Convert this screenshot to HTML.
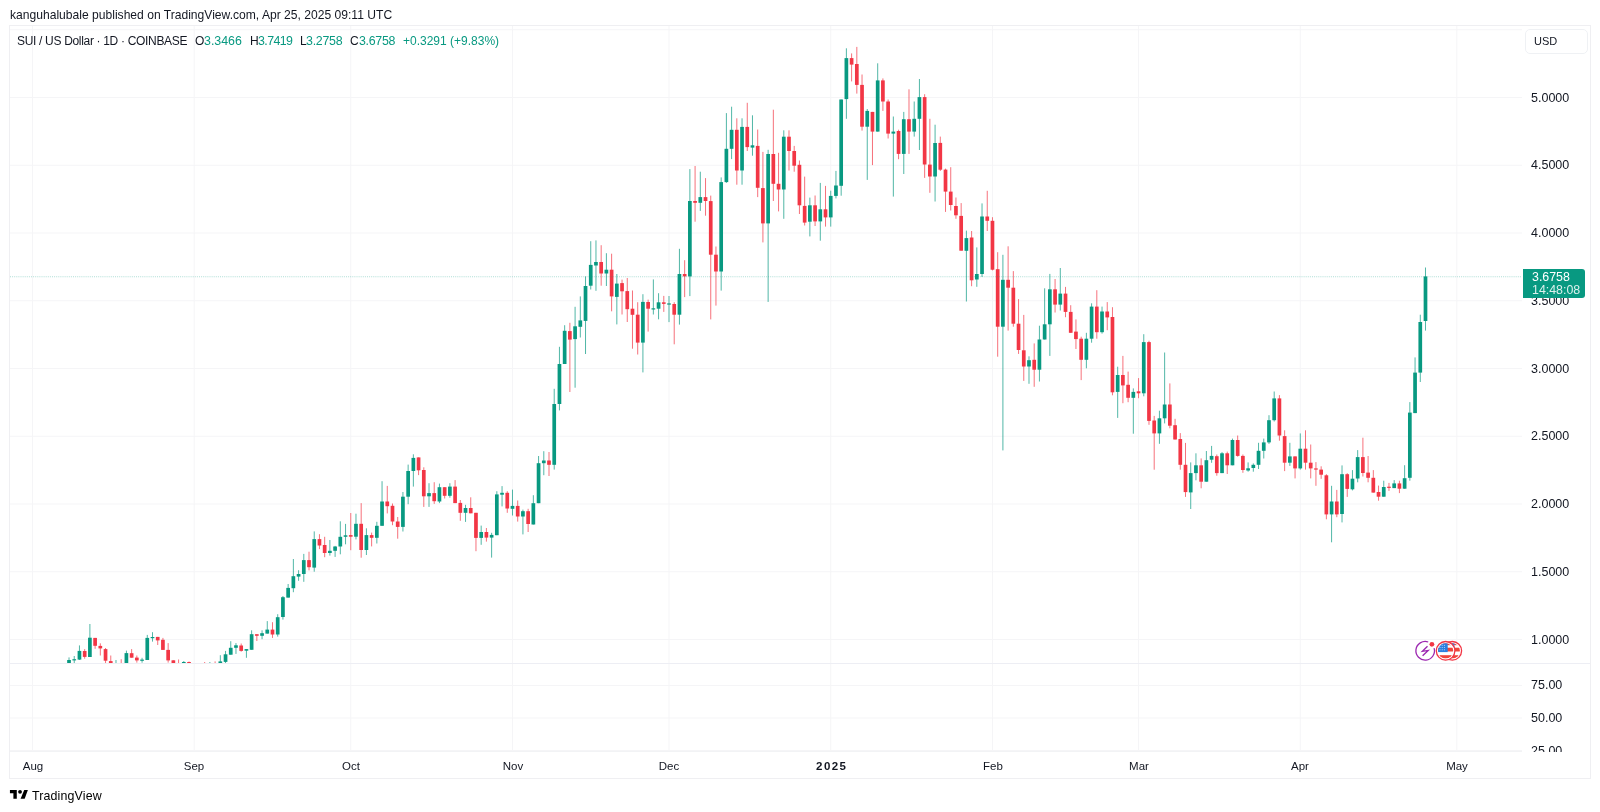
<!DOCTYPE html>
<html><head><meta charset="utf-8">
<style>
html,body{margin:0;padding:0;background:#fff;}
body{width:1600px;height:812px;position:relative;overflow:hidden;font-family:"Liberation Sans",sans-serif;color:#131722;}
.t{position:absolute;white-space:nowrap;line-height:1;will-change:transform;}
.box{position:absolute;left:9px;top:25px;width:1582px;height:754px;border:1px solid #EFEFF2;box-sizing:border-box;}
.pl{position:absolute;left:1531px;font-size:12.5px;line-height:1;will-change:transform;white-space:nowrap;}
.ml{position:absolute;font-size:11.5px;line-height:1;top:760.5px;will-change:transform;text-align:center;width:60px;}
.g{color:#089981;}
</style></head><body>
<div class="t" style="left:9.7px;top:8.9px;font-size:12.1px;">kanguhalubale published on TradingView.com, Apr 25, 2025 09:11 UTC</div>
<div class="box"></div>
<svg width="1600" height="812" style="position:absolute;left:0;top:0">
<defs><clipPath id="mainclip"><rect x="10" y="26" width="1512" height="637"/></clipPath></defs>
<line x1="10" x2="1522" y1="29.75" y2="29.75" stroke="#F5F5F7" stroke-width="1"/><line x1="10" x2="1522" y1="97.5" y2="97.5" stroke="#F5F5F7" stroke-width="1"/><line x1="10" x2="1522" y1="165.25" y2="165.25" stroke="#F5F5F7" stroke-width="1"/><line x1="10" x2="1522" y1="233.0" y2="233.0" stroke="#F5F5F7" stroke-width="1"/><line x1="10" x2="1522" y1="300.75" y2="300.75" stroke="#F5F5F7" stroke-width="1"/><line x1="10" x2="1522" y1="368.5" y2="368.5" stroke="#F5F5F7" stroke-width="1"/><line x1="10" x2="1522" y1="436.25" y2="436.25" stroke="#F5F5F7" stroke-width="1"/><line x1="10" x2="1522" y1="504.0" y2="504.0" stroke="#F5F5F7" stroke-width="1"/><line x1="10" x2="1522" y1="571.75" y2="571.75" stroke="#F5F5F7" stroke-width="1"/><line x1="10" x2="1522" y1="639.5" y2="639.5" stroke="#F5F5F7" stroke-width="1"/><line x1="10" x2="1522" y1="685.5" y2="685.5" stroke="#F5F5F7" stroke-width="1"/><line x1="10" x2="1522" y1="718" y2="718" stroke="#F5F5F7" stroke-width="1"/><line x1="10" x2="1522" y1="750.5" y2="750.5" stroke="#F5F5F7" stroke-width="1"/><line x1="32.5" x2="32.5" y1="26" y2="751" stroke="#F5F5F7" stroke-width="1"/><line x1="194.2332" x2="194.2332" y1="26" y2="751" stroke="#F5F5F7" stroke-width="1"/><line x1="350.74920000000003" x2="350.74920000000003" y1="26" y2="751" stroke="#F5F5F7" stroke-width="1"/><line x1="512.4824" x2="512.4824" y1="26" y2="751" stroke="#F5F5F7" stroke-width="1"/><line x1="668.9984000000001" x2="668.9984000000001" y1="26" y2="751" stroke="#F5F5F7" stroke-width="1"/><line x1="830.7316" x2="830.7316" y1="26" y2="751" stroke="#F5F5F7" stroke-width="1"/><line x1="992.4648" x2="992.4648" y1="26" y2="751" stroke="#F5F5F7" stroke-width="1"/><line x1="1138.5464" x2="1138.5464" y1="26" y2="751" stroke="#F5F5F7" stroke-width="1"/><line x1="1300.2796" x2="1300.2796" y1="26" y2="751" stroke="#F5F5F7" stroke-width="1"/><line x1="1456.7956" x2="1456.7956" y1="26" y2="751" stroke="#F5F5F7" stroke-width="1"/><line x1="10" x2="1590" y1="663.5" y2="663.5" stroke="#EDEEF4" stroke-width="1"/><line x1="10" x2="1522" y1="751.5" y2="751.5" stroke="#F2F3F5" stroke-width="1"/><g clip-path="url(#mainclip)"><rect x="68.52" y="657.4" width="1" height="10.6" fill="#089981" fill-opacity="0.7"/><rect x="67.17" y="660.0" width="3.7" height="8.0" fill="#089981"/><rect x="73.74" y="656.0" width="1" height="12.0" fill="#089981" fill-opacity="0.7"/><rect x="72.39" y="659.2" width="3.7" height="1.2" fill="#089981"/><rect x="78.95" y="645.4" width="1" height="14.6" fill="#089981" fill-opacity="0.7"/><rect x="77.60" y="650.9" width="3.7" height="8.7" fill="#089981"/><rect x="84.17" y="649.1" width="1" height="9.6" fill="#F23645" fill-opacity="0.7"/><rect x="82.82" y="651.0" width="3.7" height="5.9" fill="#F23645"/><rect x="89.39" y="624.0" width="1" height="33.0" fill="#089981" fill-opacity="0.7"/><rect x="88.04" y="637.7" width="3.7" height="19.3" fill="#089981"/><rect x="94.61" y="637.9" width="1" height="10.9" fill="#F23645" fill-opacity="0.7"/><rect x="93.26" y="637.9" width="3.7" height="7.9" fill="#F23645"/><rect x="99.82" y="643.3" width="1" height="12.2" fill="#F23645" fill-opacity="0.7"/><rect x="98.47" y="645.9" width="3.7" height="2.5" fill="#F23645"/><rect x="105.04" y="648.0" width="1" height="15.0" fill="#F23645" fill-opacity="0.7"/><rect x="103.69" y="649.1" width="3.7" height="11.6" fill="#F23645"/><rect x="110.26" y="655.5" width="1" height="12.5" fill="#F23645" fill-opacity="0.7"/><rect x="108.91" y="661.1" width="3.7" height="6.9" fill="#F23645"/><rect x="115.48" y="660.0" width="1" height="8.0" fill="#089981" fill-opacity="0.7"/><rect x="114.13" y="664.0" width="3.7" height="2.0" fill="#089981"/><rect x="120.69" y="659.2" width="1" height="8.8" fill="#F23645" fill-opacity="0.7"/><rect x="119.34" y="664.0" width="3.7" height="2.0" fill="#F23645"/><rect x="125.91" y="650.6" width="1" height="17.4" fill="#089981" fill-opacity="0.7"/><rect x="124.56" y="653.1" width="3.7" height="14.9" fill="#089981"/><rect x="131.13" y="649.1" width="1" height="8.6" fill="#F23645" fill-opacity="0.7"/><rect x="129.78" y="653.2" width="3.7" height="4.5" fill="#F23645"/><rect x="136.34" y="655.5" width="1" height="7.1" fill="#F23645" fill-opacity="0.7"/><rect x="134.99" y="657.6" width="3.7" height="2.8" fill="#F23645"/><rect x="141.56" y="657.8" width="1" height="4.9" fill="#089981" fill-opacity="0.7"/><rect x="140.21" y="659.6" width="3.7" height="1.2" fill="#089981"/><rect x="146.78" y="634.9" width="1" height="25.1" fill="#089981" fill-opacity="0.7"/><rect x="145.43" y="637.9" width="3.7" height="22.1" fill="#089981"/><rect x="152.00" y="632.2" width="1" height="9.4" fill="#089981" fill-opacity="0.7"/><rect x="150.65" y="637.0" width="3.7" height="1.2" fill="#089981"/><rect x="157.21" y="636.9" width="1" height="8.1" fill="#F23645" fill-opacity="0.7"/><rect x="155.86" y="636.9" width="3.7" height="3.5" fill="#F23645"/><rect x="162.43" y="637.9" width="1" height="12.0" fill="#F23645" fill-opacity="0.7"/><rect x="161.08" y="639.8" width="3.7" height="10.1" fill="#F23645"/><rect x="167.65" y="643.1" width="1" height="19.5" fill="#F23645" fill-opacity="0.7"/><rect x="166.30" y="649.9" width="3.7" height="10.5" fill="#F23645"/><rect x="172.86" y="660.3" width="1" height="7.7" fill="#F23645" fill-opacity="0.7"/><rect x="171.51" y="660.3" width="3.7" height="7.7" fill="#F23645"/><rect x="178.08" y="659.5" width="1" height="8.5" fill="#F23645" fill-opacity="0.7"/><rect x="176.73" y="664.0" width="3.7" height="2.0" fill="#F23645"/><rect x="183.30" y="661.0" width="1" height="7.0" fill="#089981" fill-opacity="0.7"/><rect x="181.95" y="662.0" width="3.7" height="6.0" fill="#089981"/><rect x="188.52" y="661.5" width="1" height="6.5" fill="#F23645" fill-opacity="0.7"/><rect x="187.17" y="662.0" width="3.7" height="6.0" fill="#F23645"/><rect x="204.17" y="662.0" width="1" height="6.0" fill="#F23645" fill-opacity="0.7"/><rect x="202.82" y="664.0" width="3.7" height="2.0" fill="#F23645"/><rect x="209.38" y="662.0" width="1" height="6.0" fill="#089981" fill-opacity="0.7"/><rect x="208.03" y="664.0" width="3.7" height="2.0" fill="#089981"/><rect x="214.60" y="661.4" width="1" height="6.6" fill="#F23645" fill-opacity="0.7"/><rect x="213.25" y="664.0" width="3.7" height="2.0" fill="#F23645"/><rect x="219.82" y="655.2" width="1" height="12.8" fill="#089981" fill-opacity="0.7"/><rect x="218.47" y="661.4" width="3.7" height="6.6" fill="#089981"/><rect x="225.04" y="650.9" width="1" height="12.1" fill="#089981" fill-opacity="0.7"/><rect x="223.69" y="654.3" width="3.7" height="7.6" fill="#089981"/><rect x="230.25" y="641.2" width="1" height="13.5" fill="#089981" fill-opacity="0.7"/><rect x="228.90" y="647.8" width="3.7" height="6.9" fill="#089981"/><rect x="235.47" y="643.1" width="1" height="10.8" fill="#089981" fill-opacity="0.7"/><rect x="234.12" y="645.3" width="3.7" height="2.5" fill="#089981"/><rect x="240.69" y="643.5" width="1" height="8.2" fill="#F23645" fill-opacity="0.7"/><rect x="239.34" y="645.5" width="3.7" height="5.4" fill="#F23645"/><rect x="245.91" y="649.1" width="1" height="8.7" fill="#089981" fill-opacity="0.7"/><rect x="244.56" y="649.1" width="3.7" height="1.6" fill="#089981"/><rect x="251.12" y="630.3" width="1" height="19.5" fill="#089981" fill-opacity="0.7"/><rect x="249.77" y="634.2" width="3.7" height="15.6" fill="#089981"/><rect x="256.34" y="634.2" width="1" height="6.8" fill="#F23645" fill-opacity="0.7"/><rect x="254.99" y="634.2" width="3.7" height="1.6" fill="#F23645"/><rect x="261.56" y="630.3" width="1" height="8.9" fill="#089981" fill-opacity="0.7"/><rect x="260.21" y="633.2" width="3.7" height="2.6" fill="#089981"/><rect x="266.77" y="621.1" width="1" height="12.5" fill="#089981" fill-opacity="0.7"/><rect x="265.42" y="629.6" width="3.7" height="4.0" fill="#089981"/><rect x="271.99" y="622.2" width="1" height="15.7" fill="#F23645" fill-opacity="0.7"/><rect x="270.64" y="629.6" width="3.7" height="4.9" fill="#F23645"/><rect x="277.21" y="614.2" width="1" height="22.4" fill="#089981" fill-opacity="0.7"/><rect x="275.86" y="617.2" width="3.7" height="17.3" fill="#089981"/><rect x="282.43" y="596.0" width="1" height="23.6" fill="#089981" fill-opacity="0.7"/><rect x="281.08" y="597.2" width="3.7" height="19.8" fill="#089981"/><rect x="287.64" y="584.0" width="1" height="13.6" fill="#089981" fill-opacity="0.7"/><rect x="286.29" y="587.9" width="3.7" height="9.7" fill="#089981"/><rect x="292.86" y="559.0" width="1" height="33.2" fill="#089981" fill-opacity="0.7"/><rect x="291.51" y="576.2" width="3.7" height="12.0" fill="#089981"/><rect x="298.08" y="570.2" width="1" height="10.6" fill="#089981" fill-opacity="0.7"/><rect x="296.73" y="574.0" width="3.7" height="2.6" fill="#089981"/><rect x="303.29" y="553.9" width="1" height="27.9" fill="#089981" fill-opacity="0.7"/><rect x="301.94" y="560.1" width="3.7" height="13.9" fill="#089981"/><rect x="308.51" y="551.7" width="1" height="18.7" fill="#F23645" fill-opacity="0.7"/><rect x="307.16" y="560.1" width="3.7" height="7.1" fill="#F23645"/><rect x="313.73" y="531.4" width="1" height="40.3" fill="#089981" fill-opacity="0.7"/><rect x="312.38" y="539.1" width="3.7" height="28.5" fill="#089981"/><rect x="318.95" y="534.2" width="1" height="14.9" fill="#F23645" fill-opacity="0.7"/><rect x="317.60" y="539.1" width="3.7" height="6.4" fill="#F23645"/><rect x="324.16" y="536.8" width="1" height="20.4" fill="#F23645" fill-opacity="0.7"/><rect x="322.81" y="545.0" width="3.7" height="8.0" fill="#F23645"/><rect x="329.38" y="540.0" width="1" height="15.6" fill="#089981" fill-opacity="0.7"/><rect x="328.03" y="550.8" width="3.7" height="2.2" fill="#089981"/><rect x="334.60" y="545.9" width="1" height="11.0" fill="#089981" fill-opacity="0.7"/><rect x="333.25" y="546.5" width="3.7" height="4.3" fill="#089981"/><rect x="339.81" y="521.3" width="1" height="33.0" fill="#089981" fill-opacity="0.7"/><rect x="338.46" y="536.8" width="3.7" height="9.7" fill="#089981"/><rect x="345.03" y="523.9" width="1" height="20.4" fill="#089981" fill-opacity="0.7"/><rect x="343.68" y="535.3" width="3.7" height="1.5" fill="#089981"/><rect x="350.25" y="513.0" width="1" height="37.2" fill="#F23645" fill-opacity="0.7"/><rect x="348.90" y="535.1" width="3.7" height="1.6" fill="#F23645"/><rect x="355.47" y="513.7" width="1" height="25.7" fill="#089981" fill-opacity="0.7"/><rect x="354.12" y="523.8" width="3.7" height="12.9" fill="#089981"/><rect x="360.68" y="503.1" width="1" height="54.6" fill="#F23645" fill-opacity="0.7"/><rect x="359.33" y="523.8" width="3.7" height="26.2" fill="#F23645"/><rect x="365.90" y="528.3" width="1" height="26.7" fill="#089981" fill-opacity="0.7"/><rect x="364.55" y="535.1" width="3.7" height="14.9" fill="#089981"/><rect x="371.12" y="532.6" width="1" height="13.8" fill="#F23645" fill-opacity="0.7"/><rect x="369.77" y="535.1" width="3.7" height="2.7" fill="#F23645"/><rect x="376.34" y="521.8" width="1" height="21.7" fill="#089981" fill-opacity="0.7"/><rect x="374.99" y="525.8" width="3.7" height="12.0" fill="#089981"/><rect x="381.55" y="481.2" width="1" height="44.6" fill="#089981" fill-opacity="0.7"/><rect x="380.20" y="501.5" width="3.7" height="24.3" fill="#089981"/><rect x="386.77" y="485.9" width="1" height="27.5" fill="#F23645" fill-opacity="0.7"/><rect x="385.42" y="501.5" width="3.7" height="4.7" fill="#F23645"/><rect x="391.99" y="503.5" width="1" height="21.7" fill="#F23645" fill-opacity="0.7"/><rect x="390.64" y="505.8" width="3.7" height="15.7" fill="#F23645"/><rect x="397.20" y="517.0" width="1" height="21.7" fill="#F23645" fill-opacity="0.7"/><rect x="395.85" y="521.5" width="3.7" height="5.4" fill="#F23645"/><rect x="402.42" y="492.0" width="1" height="39.5" fill="#089981" fill-opacity="0.7"/><rect x="401.07" y="496.7" width="3.7" height="30.2" fill="#089981"/><rect x="407.64" y="464.6" width="1" height="39.6" fill="#089981" fill-opacity="0.7"/><rect x="406.29" y="471.0" width="3.7" height="25.7" fill="#089981"/><rect x="412.86" y="454.3" width="1" height="32.3" fill="#089981" fill-opacity="0.7"/><rect x="411.51" y="457.9" width="3.7" height="13.1" fill="#089981"/><rect x="418.07" y="457.4" width="1" height="17.7" fill="#F23645" fill-opacity="0.7"/><rect x="416.72" y="457.4" width="3.7" height="12.9" fill="#F23645"/><rect x="423.29" y="467.3" width="1" height="39.6" fill="#F23645" fill-opacity="0.7"/><rect x="421.94" y="470.0" width="3.7" height="26.3" fill="#F23645"/><rect x="428.51" y="483.2" width="1" height="23.7" fill="#089981" fill-opacity="0.7"/><rect x="427.16" y="493.1" width="3.7" height="3.2" fill="#089981"/><rect x="433.72" y="482.2" width="1" height="21.7" fill="#F23645" fill-opacity="0.7"/><rect x="432.37" y="493.1" width="3.7" height="8.1" fill="#F23645"/><rect x="438.94" y="483.6" width="1" height="19.5" fill="#089981" fill-opacity="0.7"/><rect x="437.59" y="487.2" width="3.7" height="14.3" fill="#089981"/><rect x="444.16" y="487.2" width="1" height="11.3" fill="#F23645" fill-opacity="0.7"/><rect x="442.81" y="487.2" width="3.7" height="8.6" fill="#F23645"/><rect x="449.38" y="483.2" width="1" height="14.5" fill="#089981" fill-opacity="0.7"/><rect x="448.03" y="486.6" width="3.7" height="9.2" fill="#089981"/><rect x="454.59" y="480.1" width="1" height="23.0" fill="#F23645" fill-opacity="0.7"/><rect x="453.24" y="486.6" width="3.7" height="16.5" fill="#F23645"/><rect x="459.81" y="500.0" width="1" height="20.8" fill="#F23645" fill-opacity="0.7"/><rect x="458.46" y="502.9" width="3.7" height="9.9" fill="#F23645"/><rect x="465.03" y="504.8" width="1" height="17.1" fill="#089981" fill-opacity="0.7"/><rect x="463.68" y="508.0" width="3.7" height="4.8" fill="#089981"/><rect x="470.24" y="497.3" width="1" height="16.0" fill="#F23645" fill-opacity="0.7"/><rect x="468.89" y="508.0" width="3.7" height="5.3" fill="#F23645"/><rect x="475.46" y="512.8" width="1" height="38.4" fill="#F23645" fill-opacity="0.7"/><rect x="474.11" y="512.8" width="3.7" height="25.1" fill="#F23645"/><rect x="480.68" y="525.6" width="1" height="19.2" fill="#089981" fill-opacity="0.7"/><rect x="479.33" y="532.0" width="3.7" height="5.9" fill="#089981"/><rect x="485.90" y="528.0" width="1" height="13.6" fill="#F23645" fill-opacity="0.7"/><rect x="484.55" y="532.0" width="3.7" height="5.6" fill="#F23645"/><rect x="491.11" y="532.8" width="1" height="24.8" fill="#089981" fill-opacity="0.7"/><rect x="489.76" y="534.9" width="3.7" height="2.7" fill="#089981"/><rect x="496.33" y="491.2" width="1" height="44.0" fill="#089981" fill-opacity="0.7"/><rect x="494.98" y="494.4" width="3.7" height="40.8" fill="#089981"/><rect x="501.55" y="486.1" width="1" height="20.3" fill="#089981" fill-opacity="0.7"/><rect x="500.20" y="492.8" width="3.7" height="1.9" fill="#089981"/><rect x="506.77" y="491.2" width="1" height="21.6" fill="#F23645" fill-opacity="0.7"/><rect x="505.42" y="492.8" width="3.7" height="15.7" fill="#F23645"/><rect x="511.98" y="489.6" width="1" height="25.9" fill="#089981" fill-opacity="0.7"/><rect x="510.63" y="505.9" width="3.7" height="2.9" fill="#089981"/><rect x="517.20" y="500.5" width="1" height="21.1" fill="#F23645" fill-opacity="0.7"/><rect x="515.85" y="505.9" width="3.7" height="10.6" fill="#F23645"/><rect x="522.42" y="509.6" width="1" height="24.8" fill="#089981" fill-opacity="0.7"/><rect x="521.07" y="511.2" width="3.7" height="5.3" fill="#089981"/><rect x="527.63" y="508.8" width="1" height="23.2" fill="#F23645" fill-opacity="0.7"/><rect x="526.28" y="511.2" width="3.7" height="12.8" fill="#F23645"/><rect x="532.85" y="495.2" width="1" height="29.3" fill="#089981" fill-opacity="0.7"/><rect x="531.50" y="503.2" width="3.7" height="21.3" fill="#089981"/><rect x="538.07" y="456.0" width="1" height="47.2" fill="#089981" fill-opacity="0.7"/><rect x="536.72" y="463.2" width="3.7" height="40.0" fill="#089981"/><rect x="543.29" y="451.2" width="1" height="24.0" fill="#089981" fill-opacity="0.7"/><rect x="541.94" y="460.5" width="3.7" height="2.7" fill="#089981"/><rect x="548.50" y="452.0" width="1" height="24.0" fill="#F23645" fill-opacity="0.7"/><rect x="547.15" y="460.5" width="3.7" height="4.3" fill="#F23645"/><rect x="553.72" y="388.8" width="1" height="80.8" fill="#089981" fill-opacity="0.7"/><rect x="552.37" y="404.0" width="3.7" height="60.8" fill="#089981"/><rect x="558.94" y="346.8" width="1" height="63.6" fill="#089981" fill-opacity="0.7"/><rect x="557.59" y="364.0" width="3.7" height="40.0" fill="#089981"/><rect x="564.15" y="325.2" width="1" height="38.8" fill="#089981" fill-opacity="0.7"/><rect x="562.80" y="330.8" width="3.7" height="33.2" fill="#089981"/><rect x="569.37" y="322.8" width="1" height="69.2" fill="#F23645" fill-opacity="0.7"/><rect x="568.02" y="331.1" width="3.7" height="8.5" fill="#F23645"/><rect x="574.59" y="306.8" width="1" height="80.9" fill="#089981" fill-opacity="0.7"/><rect x="573.24" y="326.3" width="3.7" height="12.8" fill="#089981"/><rect x="579.81" y="296.4" width="1" height="41.1" fill="#089981" fill-opacity="0.7"/><rect x="578.46" y="320.4" width="3.7" height="6.4" fill="#089981"/><rect x="585.02" y="276.4" width="1" height="77.6" fill="#089981" fill-opacity="0.7"/><rect x="583.67" y="286.0" width="3.7" height="34.9" fill="#089981"/><rect x="590.24" y="241.2" width="1" height="48.3" fill="#089981" fill-opacity="0.7"/><rect x="588.89" y="264.9" width="3.7" height="20.8" fill="#089981"/><rect x="595.46" y="240.4" width="1" height="50.4" fill="#089981" fill-opacity="0.7"/><rect x="594.11" y="262.0" width="3.7" height="3.5" fill="#089981"/><rect x="600.67" y="245.2" width="1" height="40.5" fill="#F23645" fill-opacity="0.7"/><rect x="599.32" y="262.0" width="3.7" height="11.5" fill="#F23645"/><rect x="605.89" y="253.2" width="1" height="32.8" fill="#089981" fill-opacity="0.7"/><rect x="604.54" y="269.7" width="3.7" height="3.8" fill="#089981"/><rect x="611.11" y="253.7" width="1" height="57.6" fill="#F23645" fill-opacity="0.7"/><rect x="609.76" y="269.7" width="3.7" height="26.7" fill="#F23645"/><rect x="616.33" y="274.0" width="1" height="50.4" fill="#089981" fill-opacity="0.7"/><rect x="614.98" y="283.6" width="3.7" height="13.3" fill="#089981"/><rect x="621.54" y="279.6" width="1" height="34.9" fill="#F23645" fill-opacity="0.7"/><rect x="620.19" y="283.1" width="3.7" height="8.2" fill="#F23645"/><rect x="626.76" y="278.0" width="1" height="44.0" fill="#F23645" fill-opacity="0.7"/><rect x="625.41" y="291.1" width="3.7" height="18.1" fill="#F23645"/><rect x="631.98" y="290.5" width="1" height="58.2" fill="#F23645" fill-opacity="0.7"/><rect x="630.63" y="308.7" width="3.7" height="6.1" fill="#F23645"/><rect x="637.20" y="302.2" width="1" height="52.3" fill="#F23645" fill-opacity="0.7"/><rect x="635.85" y="314.7" width="3.7" height="27.9" fill="#F23645"/><rect x="642.41" y="294.2" width="1" height="78.2" fill="#089981" fill-opacity="0.7"/><rect x="641.06" y="301.9" width="3.7" height="40.7" fill="#089981"/><rect x="647.63" y="299.6" width="1" height="32.0" fill="#F23645" fill-opacity="0.7"/><rect x="646.28" y="302.0" width="3.7" height="6.7" fill="#F23645"/><rect x="652.85" y="279.4" width="1" height="35.1" fill="#089981" fill-opacity="0.7"/><rect x="651.50" y="308.3" width="3.7" height="1.2" fill="#089981"/><rect x="658.06" y="293.2" width="1" height="26.1" fill="#089981" fill-opacity="0.7"/><rect x="656.71" y="302.3" width="3.7" height="6.4" fill="#089981"/><rect x="663.28" y="295.9" width="1" height="16.0" fill="#F23645" fill-opacity="0.7"/><rect x="661.93" y="302.3" width="3.7" height="1.6" fill="#F23645"/><rect x="668.50" y="296.0" width="1" height="26.1" fill="#089981" fill-opacity="0.7"/><rect x="667.15" y="303.4" width="3.7" height="1.2" fill="#089981"/><rect x="673.72" y="302.2" width="1" height="42.1" fill="#F23645" fill-opacity="0.7"/><rect x="672.37" y="304.0" width="3.7" height="10.7" fill="#F23645"/><rect x="678.93" y="248.8" width="1" height="75.8" fill="#089981" fill-opacity="0.7"/><rect x="677.58" y="274.0" width="3.7" height="40.7" fill="#089981"/><rect x="684.15" y="260.2" width="1" height="36.9" fill="#F23645" fill-opacity="0.7"/><rect x="682.80" y="274.0" width="3.7" height="2.4" fill="#F23645"/><rect x="689.37" y="169.1" width="1" height="127.0" fill="#089981" fill-opacity="0.7"/><rect x="688.02" y="201.0" width="3.7" height="75.4" fill="#089981"/><rect x="694.58" y="166.0" width="1" height="55.7" fill="#F23645" fill-opacity="0.7"/><rect x="693.23" y="201.0" width="3.7" height="1.8" fill="#F23645"/><rect x="699.80" y="171.7" width="1" height="39.2" fill="#089981" fill-opacity="0.7"/><rect x="698.45" y="197.1" width="3.7" height="5.7" fill="#089981"/><rect x="705.02" y="178.1" width="1" height="37.6" fill="#F23645" fill-opacity="0.7"/><rect x="703.67" y="197.1" width="3.7" height="3.9" fill="#F23645"/><rect x="710.24" y="195.6" width="1" height="123.8" fill="#F23645" fill-opacity="0.7"/><rect x="708.89" y="201.1" width="3.7" height="53.6" fill="#F23645"/><rect x="715.45" y="246.5" width="1" height="59.1" fill="#F23645" fill-opacity="0.7"/><rect x="714.10" y="254.7" width="3.7" height="16.8" fill="#F23645"/><rect x="720.67" y="177.4" width="1" height="113.2" fill="#089981" fill-opacity="0.7"/><rect x="719.32" y="182.1" width="3.7" height="89.4" fill="#089981"/><rect x="725.89" y="113.1" width="1" height="69.8" fill="#089981" fill-opacity="0.7"/><rect x="724.54" y="148.8" width="3.7" height="33.3" fill="#089981"/><rect x="731.10" y="106.7" width="1" height="52.4" fill="#089981" fill-opacity="0.7"/><rect x="729.75" y="129.8" width="3.7" height="19.0" fill="#089981"/><rect x="736.32" y="118.3" width="1" height="66.4" fill="#F23645" fill-opacity="0.7"/><rect x="734.97" y="129.8" width="3.7" height="40.7" fill="#F23645"/><rect x="741.54" y="118.3" width="1" height="66.4" fill="#089981" fill-opacity="0.7"/><rect x="740.19" y="126.9" width="3.7" height="43.6" fill="#089981"/><rect x="746.76" y="102.8" width="1" height="48.2" fill="#F23645" fill-opacity="0.7"/><rect x="745.41" y="126.9" width="3.7" height="20.2" fill="#F23645"/><rect x="751.97" y="115.3" width="1" height="40.4" fill="#089981" fill-opacity="0.7"/><rect x="750.62" y="145.3" width="3.7" height="2.3" fill="#089981"/><rect x="757.19" y="129.5" width="1" height="67.6" fill="#F23645" fill-opacity="0.7"/><rect x="755.84" y="145.9" width="3.7" height="41.9" fill="#F23645"/><rect x="762.41" y="151.9" width="1" height="90.5" fill="#F23645" fill-opacity="0.7"/><rect x="761.06" y="188.1" width="3.7" height="35.3" fill="#F23645"/><rect x="767.63" y="149.8" width="1" height="152.1" fill="#089981" fill-opacity="0.7"/><rect x="766.28" y="154.0" width="3.7" height="69.4" fill="#089981"/><rect x="772.84" y="109.7" width="1" height="91.3" fill="#F23645" fill-opacity="0.7"/><rect x="771.49" y="154.0" width="3.7" height="29.8" fill="#F23645"/><rect x="778.06" y="152.8" width="1" height="58.6" fill="#F23645" fill-opacity="0.7"/><rect x="776.71" y="183.8" width="3.7" height="5.7" fill="#F23645"/><rect x="783.28" y="130.3" width="1" height="88.5" fill="#089981" fill-opacity="0.7"/><rect x="781.93" y="136.7" width="3.7" height="52.8" fill="#089981"/><rect x="788.49" y="130.3" width="1" height="40.2" fill="#F23645" fill-opacity="0.7"/><rect x="787.14" y="136.7" width="3.7" height="14.3" fill="#F23645"/><rect x="793.71" y="145.9" width="1" height="25.8" fill="#F23645" fill-opacity="0.7"/><rect x="792.36" y="151.0" width="3.7" height="14.7" fill="#F23645"/><rect x="798.93" y="160.5" width="1" height="53.5" fill="#F23645" fill-opacity="0.7"/><rect x="797.58" y="164.8" width="3.7" height="40.5" fill="#F23645"/><rect x="804.15" y="176.6" width="1" height="48.9" fill="#F23645" fill-opacity="0.7"/><rect x="802.80" y="205.9" width="3.7" height="16.7" fill="#F23645"/><rect x="809.36" y="197.6" width="1" height="38.8" fill="#089981" fill-opacity="0.7"/><rect x="808.01" y="205.3" width="3.7" height="16.4" fill="#089981"/><rect x="814.58" y="195.5" width="1" height="30.5" fill="#F23645" fill-opacity="0.7"/><rect x="813.23" y="205.3" width="3.7" height="16.1" fill="#F23645"/><rect x="819.80" y="182.9" width="1" height="57.8" fill="#089981" fill-opacity="0.7"/><rect x="818.45" y="209.3" width="3.7" height="12.1" fill="#089981"/><rect x="825.01" y="185.9" width="1" height="40.7" fill="#F23645" fill-opacity="0.7"/><rect x="823.66" y="209.3" width="3.7" height="8.1" fill="#F23645"/><rect x="830.23" y="190.7" width="1" height="35.9" fill="#089981" fill-opacity="0.7"/><rect x="828.88" y="195.9" width="3.7" height="21.5" fill="#089981"/><rect x="835.45" y="170.9" width="1" height="27.5" fill="#089981" fill-opacity="0.7"/><rect x="834.10" y="185.5" width="3.7" height="10.4" fill="#089981"/><rect x="840.67" y="99.5" width="1" height="96.2" fill="#089981" fill-opacity="0.7"/><rect x="839.32" y="99.5" width="3.7" height="86.3" fill="#089981"/><rect x="845.88" y="48.3" width="1" height="70.5" fill="#089981" fill-opacity="0.7"/><rect x="844.53" y="58.1" width="3.7" height="41.0" fill="#089981"/><rect x="851.10" y="53.4" width="1" height="28.0" fill="#F23645" fill-opacity="0.7"/><rect x="849.75" y="58.1" width="3.7" height="6.5" fill="#F23645"/><rect x="856.32" y="46.9" width="1" height="46.7" fill="#F23645" fill-opacity="0.7"/><rect x="854.97" y="64.0" width="3.7" height="20.9" fill="#F23645"/><rect x="861.53" y="74.5" width="1" height="56.1" fill="#F23645" fill-opacity="0.7"/><rect x="860.18" y="84.9" width="3.7" height="41.8" fill="#F23645"/><rect x="866.75" y="109.0" width="1" height="70.9" fill="#089981" fill-opacity="0.7"/><rect x="865.40" y="110.9" width="3.7" height="15.8" fill="#089981"/><rect x="871.97" y="111.9" width="1" height="53.2" fill="#F23645" fill-opacity="0.7"/><rect x="870.62" y="111.9" width="3.7" height="19.7" fill="#F23645"/><rect x="877.19" y="63.3" width="1" height="68.3" fill="#089981" fill-opacity="0.7"/><rect x="875.84" y="80.4" width="3.7" height="51.2" fill="#089981"/><rect x="882.40" y="78.4" width="1" height="32.5" fill="#F23645" fill-opacity="0.7"/><rect x="881.05" y="80.4" width="3.7" height="21.1" fill="#F23645"/><rect x="887.62" y="99.5" width="1" height="39.0" fill="#F23645" fill-opacity="0.7"/><rect x="886.27" y="101.5" width="3.7" height="32.1" fill="#F23645"/><rect x="892.84" y="116.5" width="1" height="80.1" fill="#089981" fill-opacity="0.7"/><rect x="891.49" y="131.6" width="3.7" height="2.0" fill="#089981"/><rect x="898.06" y="129.7" width="1" height="29.5" fill="#F23645" fill-opacity="0.7"/><rect x="896.71" y="131.0" width="3.7" height="22.9" fill="#F23645"/><rect x="903.27" y="111.9" width="1" height="62.1" fill="#089981" fill-opacity="0.7"/><rect x="901.92" y="119.2" width="3.7" height="34.7" fill="#089981"/><rect x="908.49" y="89.3" width="1" height="64.6" fill="#F23645" fill-opacity="0.7"/><rect x="907.14" y="119.2" width="3.7" height="12.4" fill="#F23645"/><rect x="913.71" y="101.5" width="1" height="35.1" fill="#089981" fill-opacity="0.7"/><rect x="912.36" y="118.8" width="3.7" height="12.8" fill="#089981"/><rect x="918.92" y="79.0" width="1" height="71.0" fill="#089981" fill-opacity="0.7"/><rect x="917.57" y="97.1" width="3.7" height="21.7" fill="#089981"/><rect x="924.14" y="94.2" width="1" height="83.7" fill="#F23645" fill-opacity="0.7"/><rect x="922.79" y="97.1" width="3.7" height="67.4" fill="#F23645"/><rect x="929.36" y="118.8" width="1" height="74.0" fill="#F23645" fill-opacity="0.7"/><rect x="928.01" y="164.6" width="3.7" height="11.9" fill="#F23645"/><rect x="934.58" y="124.7" width="1" height="76.8" fill="#089981" fill-opacity="0.7"/><rect x="933.23" y="143.0" width="3.7" height="33.5" fill="#089981"/><rect x="939.79" y="136.6" width="1" height="34.4" fill="#F23645" fill-opacity="0.7"/><rect x="938.44" y="142.9" width="3.7" height="26.8" fill="#F23645"/><rect x="945.01" y="168.6" width="1" height="43.3" fill="#F23645" fill-opacity="0.7"/><rect x="943.66" y="169.6" width="3.7" height="22.0" fill="#F23645"/><rect x="950.23" y="167.2" width="1" height="43.3" fill="#F23645" fill-opacity="0.7"/><rect x="948.88" y="191.6" width="3.7" height="13.4" fill="#F23645"/><rect x="955.44" y="197.5" width="1" height="21.3" fill="#F23645" fill-opacity="0.7"/><rect x="954.09" y="206.0" width="3.7" height="9.3" fill="#F23645"/><rect x="960.66" y="203.1" width="1" height="47.6" fill="#F23645" fill-opacity="0.7"/><rect x="959.31" y="215.9" width="3.7" height="34.8" fill="#F23645"/><rect x="965.88" y="230.6" width="1" height="70.9" fill="#089981" fill-opacity="0.7"/><rect x="964.53" y="238.1" width="3.7" height="12.7" fill="#089981"/><rect x="971.10" y="231.0" width="1" height="55.2" fill="#F23645" fill-opacity="0.7"/><rect x="969.75" y="237.5" width="3.7" height="42.8" fill="#F23645"/><rect x="976.31" y="247.4" width="1" height="39.4" fill="#089981" fill-opacity="0.7"/><rect x="974.96" y="274.0" width="3.7" height="5.5" fill="#089981"/><rect x="981.53" y="203.4" width="1" height="73.6" fill="#089981" fill-opacity="0.7"/><rect x="980.18" y="216.5" width="3.7" height="57.5" fill="#089981"/><rect x="986.75" y="190.8" width="1" height="40.2" fill="#F23645" fill-opacity="0.7"/><rect x="985.40" y="216.5" width="3.7" height="4.3" fill="#F23645"/><rect x="991.96" y="217.2" width="1" height="53.2" fill="#F23645" fill-opacity="0.7"/><rect x="990.61" y="220.8" width="3.7" height="48.9" fill="#F23645"/><rect x="997.18" y="252.2" width="1" height="104.5" fill="#F23645" fill-opacity="0.7"/><rect x="995.83" y="269.2" width="3.7" height="57.5" fill="#F23645"/><rect x="1002.40" y="254.8" width="1" height="195.6" fill="#089981" fill-opacity="0.7"/><rect x="1001.05" y="279.8" width="3.7" height="46.9" fill="#089981"/><rect x="1007.62" y="246.3" width="1" height="84.3" fill="#F23645" fill-opacity="0.7"/><rect x="1006.27" y="279.8" width="3.7" height="7.9" fill="#F23645"/><rect x="1012.83" y="271.1" width="1" height="55.6" fill="#F23645" fill-opacity="0.7"/><rect x="1011.48" y="287.7" width="3.7" height="36.0" fill="#F23645"/><rect x="1018.05" y="299.1" width="1" height="54.8" fill="#F23645" fill-opacity="0.7"/><rect x="1016.70" y="323.7" width="3.7" height="26.3" fill="#F23645"/><rect x="1023.27" y="314.9" width="1" height="66.0" fill="#F23645" fill-opacity="0.7"/><rect x="1021.92" y="350.3" width="3.7" height="16.2" fill="#F23645"/><rect x="1028.49" y="356.3" width="1" height="27.5" fill="#089981" fill-opacity="0.7"/><rect x="1027.14" y="360.2" width="3.7" height="6.3" fill="#089981"/><rect x="1033.70" y="343.4" width="1" height="43.4" fill="#F23645" fill-opacity="0.7"/><rect x="1032.35" y="359.8" width="3.7" height="9.9" fill="#F23645"/><rect x="1038.92" y="325.7" width="1" height="55.8" fill="#089981" fill-opacity="0.7"/><rect x="1037.57" y="339.5" width="3.7" height="30.2" fill="#089981"/><rect x="1044.14" y="288.3" width="1" height="51.2" fill="#089981" fill-opacity="0.7"/><rect x="1042.79" y="324.3" width="3.7" height="15.2" fill="#089981"/><rect x="1049.35" y="273.9" width="1" height="82.0" fill="#089981" fill-opacity="0.7"/><rect x="1048.00" y="289.3" width="3.7" height="35.0" fill="#089981"/><rect x="1054.57" y="279.0" width="1" height="33.5" fill="#F23645" fill-opacity="0.7"/><rect x="1053.22" y="289.3" width="3.7" height="15.3" fill="#F23645"/><rect x="1059.79" y="268.0" width="1" height="42.5" fill="#089981" fill-opacity="0.7"/><rect x="1058.44" y="293.6" width="3.7" height="11.0" fill="#089981"/><rect x="1065.01" y="286.9" width="1" height="30.3" fill="#F23645" fill-opacity="0.7"/><rect x="1063.66" y="293.6" width="3.7" height="18.3" fill="#F23645"/><rect x="1070.22" y="305.2" width="1" height="27.6" fill="#F23645" fill-opacity="0.7"/><rect x="1068.87" y="311.9" width="3.7" height="20.9" fill="#F23645"/><rect x="1075.44" y="319.4" width="1" height="29.6" fill="#F23645" fill-opacity="0.7"/><rect x="1074.09" y="331.6" width="3.7" height="7.5" fill="#F23645"/><rect x="1080.66" y="336.7" width="1" height="43.4" fill="#F23645" fill-opacity="0.7"/><rect x="1079.31" y="338.7" width="3.7" height="21.1" fill="#F23645"/><rect x="1085.87" y="332.8" width="1" height="35.5" fill="#089981" fill-opacity="0.7"/><rect x="1084.52" y="338.7" width="3.7" height="21.1" fill="#089981"/><rect x="1091.09" y="303.3" width="1" height="39.4" fill="#089981" fill-opacity="0.7"/><rect x="1089.74" y="306.6" width="3.7" height="32.1" fill="#089981"/><rect x="1096.31" y="290.2" width="1" height="48.5" fill="#F23645" fill-opacity="0.7"/><rect x="1094.96" y="306.6" width="3.7" height="25.6" fill="#F23645"/><rect x="1101.53" y="306.6" width="1" height="27.0" fill="#089981" fill-opacity="0.7"/><rect x="1100.18" y="311.5" width="3.7" height="20.7" fill="#089981"/><rect x="1106.74" y="302.1" width="1" height="28.1" fill="#F23645" fill-opacity="0.7"/><rect x="1105.39" y="311.5" width="3.7" height="5.9" fill="#F23645"/><rect x="1111.96" y="307.2" width="1" height="88.1" fill="#F23645" fill-opacity="0.7"/><rect x="1110.61" y="317.0" width="3.7" height="75.3" fill="#F23645"/><rect x="1117.18" y="366.7" width="1" height="51.2" fill="#089981" fill-opacity="0.7"/><rect x="1115.83" y="375.0" width="3.7" height="16.9" fill="#089981"/><rect x="1122.39" y="355.9" width="1" height="47.3" fill="#F23645" fill-opacity="0.7"/><rect x="1121.04" y="375.0" width="3.7" height="10.4" fill="#F23645"/><rect x="1127.61" y="371.6" width="1" height="30.6" fill="#F23645" fill-opacity="0.7"/><rect x="1126.26" y="384.8" width="3.7" height="13.0" fill="#F23645"/><rect x="1132.83" y="388.4" width="1" height="45.3" fill="#089981" fill-opacity="0.7"/><rect x="1131.48" y="391.9" width="3.7" height="5.9" fill="#089981"/><rect x="1138.05" y="378.1" width="1" height="20.1" fill="#F23645" fill-opacity="0.7"/><rect x="1136.70" y="391.3" width="3.7" height="2.0" fill="#F23645"/><rect x="1143.26" y="334.2" width="1" height="62.1" fill="#089981" fill-opacity="0.7"/><rect x="1141.91" y="342.1" width="3.7" height="51.2" fill="#089981"/><rect x="1148.48" y="340.7" width="1" height="84.1" fill="#F23645" fill-opacity="0.7"/><rect x="1147.13" y="342.1" width="3.7" height="78.8" fill="#F23645"/><rect x="1153.70" y="415.9" width="1" height="53.8" fill="#F23645" fill-opacity="0.7"/><rect x="1152.35" y="420.5" width="3.7" height="12.9" fill="#F23645"/><rect x="1158.92" y="410.7" width="1" height="33.1" fill="#089981" fill-opacity="0.7"/><rect x="1157.57" y="418.3" width="3.7" height="15.1" fill="#089981"/><rect x="1164.13" y="352.5" width="1" height="70.9" fill="#089981" fill-opacity="0.7"/><rect x="1162.78" y="404.5" width="3.7" height="13.8" fill="#089981"/><rect x="1169.35" y="383.4" width="1" height="44.9" fill="#F23645" fill-opacity="0.7"/><rect x="1168.00" y="404.5" width="3.7" height="21.2" fill="#F23645"/><rect x="1174.57" y="418.8" width="1" height="20.7" fill="#F23645" fill-opacity="0.7"/><rect x="1173.22" y="425.2" width="3.7" height="14.3" fill="#F23645"/><rect x="1179.78" y="433.1" width="1" height="36.6" fill="#F23645" fill-opacity="0.7"/><rect x="1178.43" y="439.0" width="3.7" height="25.8" fill="#F23645"/><rect x="1185.00" y="442.9" width="1" height="54.0" fill="#F23645" fill-opacity="0.7"/><rect x="1183.65" y="464.8" width="3.7" height="27.3" fill="#F23645"/><rect x="1190.22" y="462.4" width="1" height="46.6" fill="#089981" fill-opacity="0.7"/><rect x="1188.87" y="473.1" width="3.7" height="19.3" fill="#089981"/><rect x="1195.44" y="453.3" width="1" height="27.0" fill="#089981" fill-opacity="0.7"/><rect x="1194.09" y="465.3" width="3.7" height="7.8" fill="#089981"/><rect x="1200.65" y="458.4" width="1" height="29.9" fill="#F23645" fill-opacity="0.7"/><rect x="1199.30" y="465.3" width="3.7" height="16.4" fill="#F23645"/><rect x="1205.87" y="451.0" width="1" height="30.7" fill="#089981" fill-opacity="0.7"/><rect x="1204.52" y="460.2" width="3.7" height="21.5" fill="#089981"/><rect x="1211.09" y="445.9" width="1" height="16.9" fill="#089981" fill-opacity="0.7"/><rect x="1209.74" y="455.9" width="3.7" height="3.8" fill="#089981"/><rect x="1216.30" y="454.5" width="1" height="21.2" fill="#F23645" fill-opacity="0.7"/><rect x="1214.95" y="456.2" width="3.7" height="16.9" fill="#F23645"/><rect x="1221.52" y="452.1" width="1" height="21.0" fill="#089981" fill-opacity="0.7"/><rect x="1220.17" y="453.3" width="3.7" height="19.8" fill="#089981"/><rect x="1226.74" y="451.6" width="1" height="22.4" fill="#F23645" fill-opacity="0.7"/><rect x="1225.39" y="453.3" width="3.7" height="12.0" fill="#F23645"/><rect x="1231.96" y="438.6" width="1" height="26.7" fill="#089981" fill-opacity="0.7"/><rect x="1230.61" y="440.0" width="3.7" height="25.3" fill="#089981"/><rect x="1237.17" y="435.5" width="1" height="21.2" fill="#F23645" fill-opacity="0.7"/><rect x="1235.82" y="440.0" width="3.7" height="15.9" fill="#F23645"/><rect x="1242.39" y="454.5" width="1" height="18.3" fill="#F23645" fill-opacity="0.7"/><rect x="1241.04" y="455.9" width="3.7" height="14.1" fill="#F23645"/><rect x="1247.61" y="462.4" width="1" height="9.3" fill="#089981" fill-opacity="0.7"/><rect x="1246.26" y="468.3" width="3.7" height="2.2" fill="#089981"/><rect x="1252.82" y="463.4" width="1" height="8.3" fill="#089981" fill-opacity="0.7"/><rect x="1251.47" y="464.8" width="3.7" height="3.2" fill="#089981"/><rect x="1258.04" y="442.8" width="1" height="26.2" fill="#089981" fill-opacity="0.7"/><rect x="1256.69" y="450.8" width="3.7" height="14.0" fill="#089981"/><rect x="1263.26" y="438.6" width="1" height="19.9" fill="#089981" fill-opacity="0.7"/><rect x="1261.91" y="442.4" width="3.7" height="8.4" fill="#089981"/><rect x="1268.48" y="415.2" width="1" height="28.7" fill="#089981" fill-opacity="0.7"/><rect x="1267.13" y="420.2" width="3.7" height="22.2" fill="#089981"/><rect x="1273.69" y="391.5" width="1" height="30.0" fill="#089981" fill-opacity="0.7"/><rect x="1272.34" y="398.4" width="3.7" height="21.8" fill="#089981"/><rect x="1278.91" y="395.1" width="1" height="45.6" fill="#F23645" fill-opacity="0.7"/><rect x="1277.56" y="398.4" width="3.7" height="37.1" fill="#F23645"/><rect x="1284.13" y="430.3" width="1" height="40.8" fill="#F23645" fill-opacity="0.7"/><rect x="1282.78" y="436.1" width="3.7" height="26.6" fill="#F23645"/><rect x="1289.35" y="442.8" width="1" height="23.1" fill="#089981" fill-opacity="0.7"/><rect x="1288.00" y="456.4" width="3.7" height="6.3" fill="#089981"/><rect x="1294.56" y="456.4" width="1" height="22.0" fill="#F23645" fill-opacity="0.7"/><rect x="1293.21" y="456.4" width="3.7" height="12.0" fill="#F23645"/><rect x="1299.78" y="433.4" width="1" height="36.2" fill="#089981" fill-opacity="0.7"/><rect x="1298.43" y="448.7" width="3.7" height="19.7" fill="#089981"/><rect x="1305.00" y="430.3" width="1" height="39.3" fill="#F23645" fill-opacity="0.7"/><rect x="1303.65" y="448.7" width="3.7" height="14.0" fill="#F23645"/><rect x="1310.21" y="444.5" width="1" height="33.9" fill="#F23645" fill-opacity="0.7"/><rect x="1308.86" y="462.7" width="3.7" height="5.7" fill="#F23645"/><rect x="1315.43" y="462.1" width="1" height="23.7" fill="#F23645" fill-opacity="0.7"/><rect x="1314.08" y="468.4" width="3.7" height="1.2" fill="#F23645"/><rect x="1320.65" y="466.3" width="1" height="12.5" fill="#F23645" fill-opacity="0.7"/><rect x="1319.30" y="469.6" width="3.7" height="5.1" fill="#F23645"/><rect x="1325.87" y="474.2" width="1" height="45.1" fill="#F23645" fill-opacity="0.7"/><rect x="1324.52" y="475.3" width="3.7" height="39.1" fill="#F23645"/><rect x="1331.08" y="485.8" width="1" height="56.5" fill="#089981" fill-opacity="0.7"/><rect x="1329.73" y="501.5" width="3.7" height="12.9" fill="#089981"/><rect x="1336.30" y="489.9" width="1" height="27.3" fill="#F23645" fill-opacity="0.7"/><rect x="1334.95" y="501.5" width="3.7" height="12.9" fill="#F23645"/><rect x="1341.52" y="465.4" width="1" height="57.0" fill="#089981" fill-opacity="0.7"/><rect x="1340.17" y="474.2" width="3.7" height="39.8" fill="#089981"/><rect x="1346.73" y="473.2" width="1" height="23.7" fill="#F23645" fill-opacity="0.7"/><rect x="1345.38" y="474.2" width="3.7" height="14.7" fill="#F23645"/><rect x="1351.95" y="470.1" width="1" height="20.3" fill="#089981" fill-opacity="0.7"/><rect x="1350.60" y="478.7" width="3.7" height="10.6" fill="#089981"/><rect x="1357.17" y="450.1" width="1" height="32.2" fill="#089981" fill-opacity="0.7"/><rect x="1355.82" y="457.1" width="3.7" height="21.4" fill="#089981"/><rect x="1362.39" y="437.7" width="1" height="38.8" fill="#F23645" fill-opacity="0.7"/><rect x="1361.04" y="457.1" width="3.7" height="15.9" fill="#F23645"/><rect x="1367.60" y="456.0" width="1" height="26.3" fill="#F23645" fill-opacity="0.7"/><rect x="1366.25" y="472.6" width="3.7" height="5.2" fill="#F23645"/><rect x="1372.82" y="470.1" width="1" height="22.5" fill="#F23645" fill-opacity="0.7"/><rect x="1371.47" y="477.8" width="3.7" height="14.8" fill="#F23645"/><rect x="1378.04" y="485.6" width="1" height="15.1" fill="#F23645" fill-opacity="0.7"/><rect x="1376.69" y="492.0" width="3.7" height="4.7" fill="#F23645"/><rect x="1383.25" y="480.7" width="1" height="16.0" fill="#089981" fill-opacity="0.7"/><rect x="1381.90" y="487.0" width="3.7" height="9.7" fill="#089981"/><rect x="1388.47" y="482.9" width="1" height="8.0" fill="#F23645" fill-opacity="0.7"/><rect x="1387.12" y="486.7" width="3.7" height="1.2" fill="#F23645"/><rect x="1393.69" y="480.1" width="1" height="8.0" fill="#089981" fill-opacity="0.7"/><rect x="1392.34" y="483.4" width="3.7" height="4.7" fill="#089981"/><rect x="1398.91" y="480.7" width="1" height="12.4" fill="#F23645" fill-opacity="0.7"/><rect x="1397.56" y="483.4" width="3.7" height="5.3" fill="#F23645"/><rect x="1404.12" y="465.2" width="1" height="23.5" fill="#089981" fill-opacity="0.7"/><rect x="1402.77" y="478.2" width="3.7" height="10.5" fill="#089981"/><rect x="1409.34" y="402.1" width="1" height="78.6" fill="#089981" fill-opacity="0.7"/><rect x="1407.99" y="412.6" width="3.7" height="65.2" fill="#089981"/><rect x="1414.56" y="357.4" width="1" height="55.7" fill="#089981" fill-opacity="0.7"/><rect x="1413.21" y="372.6" width="3.7" height="40.5" fill="#089981"/><rect x="1419.78" y="314.7" width="1" height="67.3" fill="#089981" fill-opacity="0.7"/><rect x="1418.43" y="322.0" width="3.7" height="50.6" fill="#089981"/><rect x="1424.99" y="267.5" width="1" height="63.1" fill="#089981" fill-opacity="0.7"/><rect x="1423.64" y="276.4" width="3.7" height="44.6" fill="#089981"/></g><line x1="10" x2="1522" y1="276.75" y2="276.75" stroke="#089981" stroke-width="1" stroke-dasharray="1 1.1" opacity="0.32"/><svg x="9.74" y="787.9" width="19" height="14" viewBox="0 0 38 28"><path d="M14.1 21.6H7.3V10.8H0V4h14.1z" fill="#000"/><path d="M21.7 21.6L29 4H36.3L29.8 21.6Z" fill="#000"/><circle cx="20.6" cy="7.8" r="3.8" fill="#000"/></svg>
<g>
 <path d="M1428.23 642.01 A9.3 9.3 0 1 0 1434.09 648.08" fill="none" stroke="#9C27B0" stroke-width="1.3"/>
 <circle cx="1431.9" cy="644.3" r="2.4" fill="#F23645"/>
 <path d="M1427.5 646.2 L1422.4 651.3 L1428.2 650.4 L1422.6 655.8" fill="none" stroke="#9C27B0" stroke-width="1.35" stroke-linejoin="miter"/>
</g>
<g><circle cx="1452.3" cy="650.8" r="9.3" fill="#fff" stroke="#F23645" stroke-width="1.3"/>
 <clipPath id="fl2"><circle cx="1452.3" cy="650.8" r="7.6"/></clipPath>
 <g clip-path="url(#fl2)">
  <rect x="1443.3" y="641.8" width="18" height="18" fill="#fff"/>
  <rect x="1443.3" y="642.5999999999999" width="18" height="2.6" fill="#F0453A"/>
  <rect x="1443.3" y="647.6999999999999" width="18" height="3.8" fill="#F0453A"/>
  <rect x="1443.3" y="655.1999999999999" width="18" height="3.4" fill="#F0453A"/>
  <rect x="1443.3" y="642.8" width="11.1" height="9.3" fill="#2A7FE0"/>
  <g fill="#fff" opacity="0.85"><circle cx="1446.7" cy="645.1999999999999" r="0.5"/><circle cx="1448.8999999999999" cy="645.1999999999999" r="0.5"/><circle cx="1451.1" cy="645.1999999999999" r="0.5"/><circle cx="1446.7" cy="647.5" r="0.5"/><circle cx="1448.8999999999999" cy="647.5" r="0.5"/><circle cx="1451.1" cy="647.5" r="0.5"/><circle cx="1446.7" cy="649.8" r="0.5"/><circle cx="1448.8999999999999" cy="649.8" r="0.5"/><circle cx="1451.1" cy="649.8" r="0.5"/></g>
 </g><circle cx="1445.6" cy="650.8" r="9.3" fill="#fff" stroke="#F23645" stroke-width="1.3"/>
 <clipPath id="fl1"><circle cx="1445.6" cy="650.8" r="7.6"/></clipPath>
 <g clip-path="url(#fl1)">
  <rect x="1436.6" y="641.8" width="18" height="18" fill="#fff"/>
  <rect x="1436.6" y="642.5999999999999" width="18" height="2.6" fill="#F0453A"/>
  <rect x="1436.6" y="647.6999999999999" width="18" height="3.8" fill="#F0453A"/>
  <rect x="1436.6" y="655.1999999999999" width="18" height="3.4" fill="#F0453A"/>
  <rect x="1436.6" y="642.8" width="11.1" height="9.3" fill="#2A7FE0"/>
  <g fill="#fff" opacity="0.85"><circle cx="1440.0" cy="645.1999999999999" r="0.5"/><circle cx="1442.1999999999998" cy="645.1999999999999" r="0.5"/><circle cx="1444.3999999999999" cy="645.1999999999999" r="0.5"/><circle cx="1440.0" cy="647.5" r="0.5"/><circle cx="1442.1999999999998" cy="647.5" r="0.5"/><circle cx="1444.3999999999999" cy="647.5" r="0.5"/><circle cx="1440.0" cy="649.8" r="0.5"/><circle cx="1442.1999999999998" cy="649.8" r="0.5"/><circle cx="1444.3999999999999" cy="649.8" r="0.5"/></g>
 </g></g>
</svg>
<div class="t" style="left:16.9px;top:35px;font-size:12px;letter-spacing:-0.32px;">SUI / US Dollar · 1D · COINBASE</div>
<div class="t" style="left:195px;top:35px;font-size:12px;">O</div>
<div class="t g" style="left:204px;top:35px;font-size:12.4px;">3.3466</div>
<div class="t" style="left:249.5px;top:35px;font-size:12px;">H</div>
<div class="t g" style="left:258px;top:35px;font-size:12.4px;letter-spacing:-0.6px;">3.7419</div>
<div class="t" style="left:299.5px;top:35px;font-size:12px;">L</div>
<div class="t g" style="left:306px;top:35px;font-size:12.4px;letter-spacing:-0.25px;">3.2758</div>
<div class="t" style="left:350px;top:35px;font-size:12px;">C</div>
<div class="t g" style="left:359px;top:35px;font-size:12.4px;letter-spacing:-0.3px;">3.6758</div>
<div class="t g" style="left:403px;top:35px;font-size:12px;">+0.3291 (+9.83%)</div>
<div style="position:absolute;left:1525px;top:29px;width:63px;height:25px;border:1px solid #EFF1F4;border-radius:5px;box-sizing:border-box;"></div>
<div class="t" style="left:1534px;top:36.3px;font-size:11px;">USD</div>
<div class="pl" style="top:91.7px">5.0000</div>
<div class="pl" style="top:159.4px">4.5000</div>
<div class="pl" style="top:227.2px">4.0000</div>
<div class="pl" style="top:294.9px">3.5000</div>
<div class="pl" style="top:362.7px">3.0000</div>
<div class="pl" style="top:430.4px">2.5000</div>
<div class="pl" style="top:498.2px">2.0000</div>
<div class="pl" style="top:566.0px">1.5000</div>
<div class="pl" style="top:633.7px">1.0000</div>
<div style="position:absolute;left:1522px;top:664px;width:60px;height:88px;overflow:hidden"><div class="pl" style="left:8.7px;top:15.3px">75.00</div><div class="pl" style="left:8.7px;top:47.7px">50.00</div><div class="pl" style="left:8.7px;top:80.9px">25.00</div></div>
<div class="ml" style="left:2.5px;">Aug</div>
<div class="ml" style="left:164.2px;">Sep</div>
<div class="ml" style="left:320.7px;">Oct</div>
<div class="ml" style="left:482.5px;">Nov</div>
<div class="ml" style="left:639.0px;">Dec</div>
<div class="ml" style="left:800.7px;font-weight:bold;letter-spacing:1.4px;text-indent:1.4px;">2025</div>
<div class="ml" style="left:962.5px;">Feb</div>
<div class="ml" style="left:1108.5px;">Mar</div>
<div class="ml" style="left:1270.3px;">Apr</div>
<div class="ml" style="left:1426.8px;">May</div>
<div style="position:absolute;left:1522.5px;top:269px;width:62.3px;height:28.8px;background:#089981;border-radius:0 3px 3px 0;"></div>
<div class="t" style="left:1531.5px;top:270.6px;font-size:12.4px;color:#fff">3.6758</div>
<div class="t" style="left:1531.5px;top:284.4px;font-size:12.4px;color:rgba(255,255,255,0.85)">14:48:08</div>
<div class="t" style="left:31.8px;top:789.5px;font-size:12.4px;letter-spacing:0.15px;color:#000">TradingView</div>
</body></html>
